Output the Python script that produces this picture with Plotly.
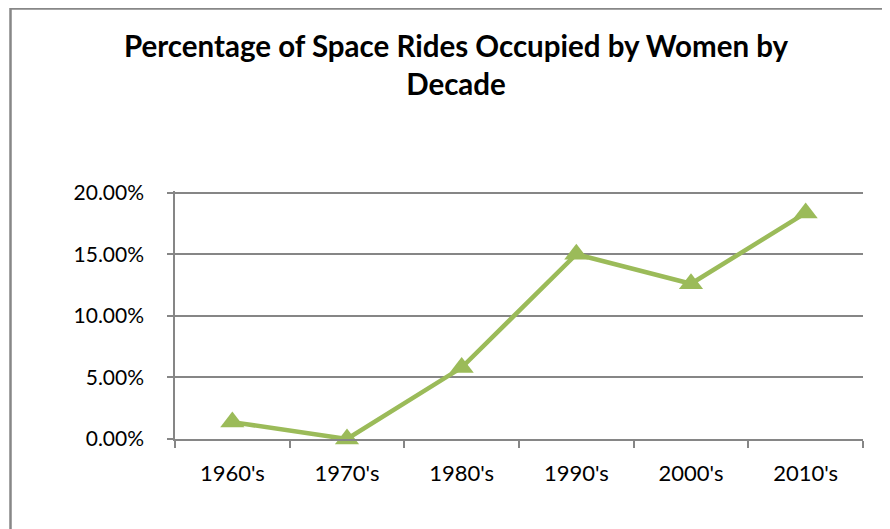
import plotly.graph_objects as go

decades = ["1960's", "1970's", "1980's", "1990's", "2000's", "2010's"]
pct_women = [0.0137, 0.0, 0.058, 0.150, 0.126, 0.1835]
y_ticks = [0.0, 0.05, 0.10, 0.15, 0.20]

# page body adds an 8px offset, so the figure is sized to fill the rest of the window
W, H = 882, 521
L, R, T, B = 167, 27, 183, 90
PW, PH = W - L - R, H - T - B

fig = go.Figure()
fig.add_trace(go.Scatter(
    x=decades, y=pct_women, mode="lines+markers",
    line=dict(color="#9BBB59", width=4.5),
    marker=dict(symbol="triangle-up", size=21, color="#9BBB59"),
    showlegend=False, cliponaxis=False,
))

grid = "#868686"
font_fam = "Lato, 'Open Sans', sans-serif"
fig.update_layout(
    width=W, height=H,
    margin=dict(l=L, r=R, t=T, b=B),
    paper_bgcolor="white", plot_bgcolor="white",
    font=dict(family=font_fam, color="black", size=21),
    title=dict(
        text="<b>Percentage of Space Rides Occupied by Women by<br>Decade</b>",
        x=(456 - 8) / W, xref="container", xanchor="center",
        y=1 - 49 / H, yref="container", yanchor="top",
        font=dict(size=29.5, family=font_fam, color="black"),
    ),
    xaxis=dict(
        type="category", range=[-0.5, len(decades) - 0.5],
        showgrid=False, showline=True, linecolor=grid, linewidth=1.5,
        ticks="outside", ticklen=7, tickcolor=grid, tickwidth=1.5, tickson="boundaries",
        tickfont=dict(size=22), zeroline=False, ticklabelstandoff=14,
    ),
    yaxis=dict(
        range=[0, 0.2013], tickvals=y_ticks, tickformat=".2%",
        showgrid=True, gridcolor=grid, gridwidth=1.5,
        showline=True, linecolor=grid, linewidth=1.5,
        ticks="outside", ticklen=6, tickcolor=grid, tickwidth=1.5,
        tickfont=dict(size=21), zeroline=False, ticklabelstandoff=19,
    ),
    shapes=[dict(
        type="rect", xref="paper", yref="paper",
        x0=(2.5 - L) / PW, x1=(W + 30 - L) / PW,
        y0=-(B + 40) / PH, y1=(H - 0.5 - B) / PH,
        line=dict(color="#878787", width=2.5), fillcolor="rgba(0,0,0,0)", layer="below",
    )],
)

fig.write_html("out.html")
